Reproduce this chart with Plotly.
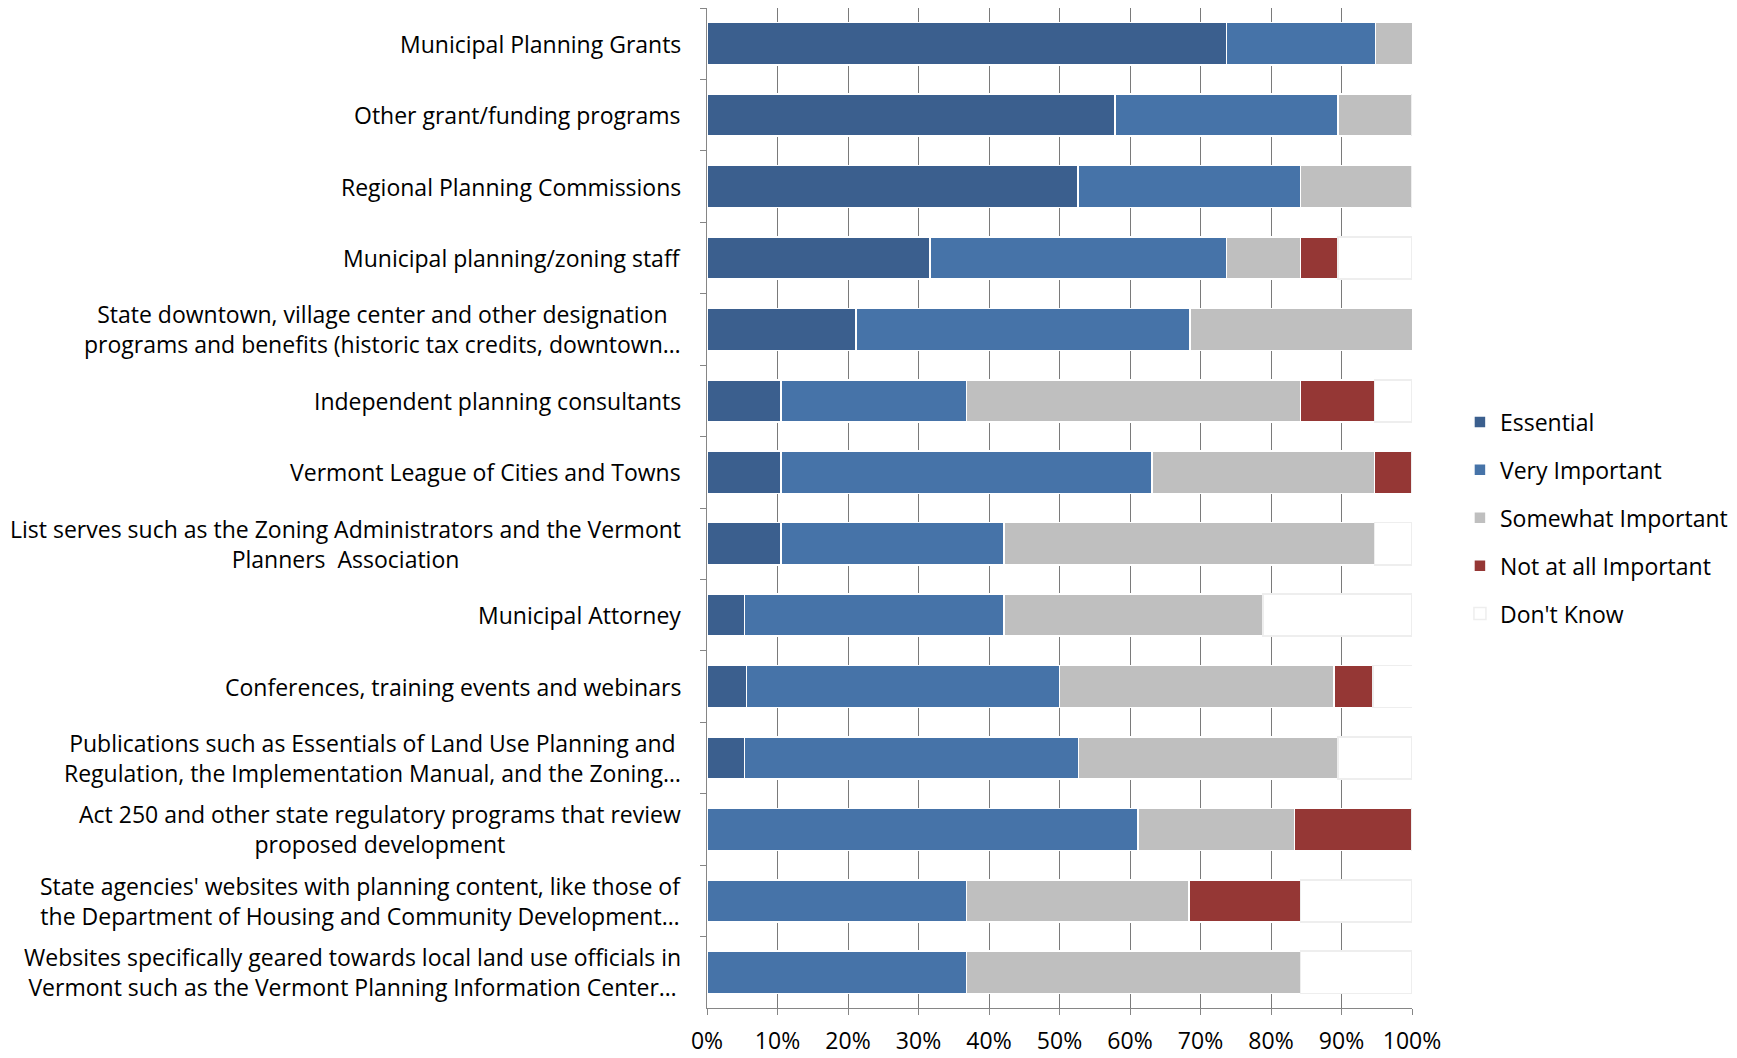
import plotly.graph_objects as go

categories = [
    "Municipal Planning Grants",
    "Other grant/funding programs",
    "Regional Planning Commissions",
    "Municipal planning/zoning staff",
    "State downtown, village center and other designation<br>programs and benefits (historic tax credits, downtown…",
    "Independent planning consultants",
    "Vermont League of Cities and Towns",
    "List serves such as the Zoning Administrators and the Vermont<br>Planners  Association",
    "Municipal Attorney",
    "Conferences, training events and webinars",
    "Publications such as Essentials of Land Use Planning and<br>Regulation, the Implementation Manual, and the Zoning…",
    "Act 250 and other state regulatory programs that review<br>proposed development",
    "State agencies' websites with planning content, like those of<br>the Department of Housing and Community Development…",
    "Websites specifically geared towards local land use officials in<br>Vermont such as the Vermont Planning Information Center…",
]

essential = [73.7, 57.9, 52.6, 31.6, 21.1, 10.5, 10.5, 10.5, 5.3, 5.6, 5.3, 0.0, 0.0, 0.0]
very_important = [21.1, 31.6, 31.6, 42.1, 47.4, 26.3, 52.6, 31.6, 36.8, 44.4, 47.4, 61.1, 36.8, 36.8]
somewhat_important = [5.3, 10.5, 15.8, 10.5, 31.6, 47.4, 31.6, 52.6, 36.8, 38.9, 36.8, 22.2, 31.6, 47.4]
not_important = [0.0, 0.0, 0.0, 5.3, 0.0, 10.5, 5.3, 0.0, 0.0, 5.6, 0.0, 16.7, 15.8, 0.0]
dont_know = [0.0, 0.0, 0.0, 10.5, 0.0, 5.3, 0.0, 5.3, 21.1, 5.6, 10.5, 0.0, 15.8, 15.8]

series_names = ["Essential", "Very Important", "Somewhat Important", "Not at all Important", "Don't Know"]
series_values = [essential, very_important, somewhat_important, not_important, dont_know]
colors = ["#3B5F8E", "#4673A8", "#BFBFBF", "#953735", "#FFFFFF"]
line_colors = ["#FFFFFF", "#FFFFFF", "#FFFFFF", "#FFFFFF", "#EEEEEE"]

x_ticks = [0, 10, 20, 30, 40, 50, 60, 70, 80, 90, 100]
x_tick_labels = ["0%", "10%", "20%", "30%", "40%", "50%", "60%", "70%", "80%", "90%", "100%"]

FONT = "Open Sans"
FS = 23

fig = go.Figure()
for name, vals, c, lc in zip(series_names, series_values, colors, line_colors):
    fig.add_trace(go.Bar(
        y=categories, x=vals, name=name, orientation="h",
        marker=dict(color=c, line=dict(color=lc, width=1.5)),
        legendgroup=name,
    ))

for cat in categories:
    fig.add_annotation(
        x=0, xref="paper", y=cat, yref="y",
        text=cat, showarrow=False, xanchor="right", align="center",
        xshift=-24, font=dict(family=FONT, size=FS, color="#000000"),
    )

fig.update_layout(
    width=1729, height=1050,
    barmode="stack", bargap=0.41,
    plot_bgcolor="white", paper_bgcolor="white",
    margin=dict(l=699, r=325, t=0, b=50, autoexpand=False),
    font=dict(family=FONT, size=FS, color="#000000"),
    legend=dict(
        x=1.068, y=0.49, xanchor="left", yanchor="middle",
        traceorder="grouped", tracegroupgap=15,
        font=dict(family=FONT, size=FS, color="#000000"),
    ),
    showlegend=True,
)
fig.update_xaxes(
    range=[0, 100], tickvals=x_ticks, ticktext=x_tick_labels,
    showgrid=True, gridcolor="#7A7A7A", gridwidth=1.4,
    showline=True, linecolor="#868686", linewidth=1.4,
    ticks="outside", ticklen=6, tickcolor="#868686",
    ticklabelstandoff=6,
    zeroline=False, tickfont=dict(family=FONT, size=FS),
)
fig.update_yaxes(
    autorange="reversed", showticklabels=False,
    showline=True, linecolor="#868686", linewidth=1.4,
    ticks="outside", ticklen=6, tickcolor="#868686", tickson="boundaries",
    showgrid=False,
)

fig.write_html("out.html")
